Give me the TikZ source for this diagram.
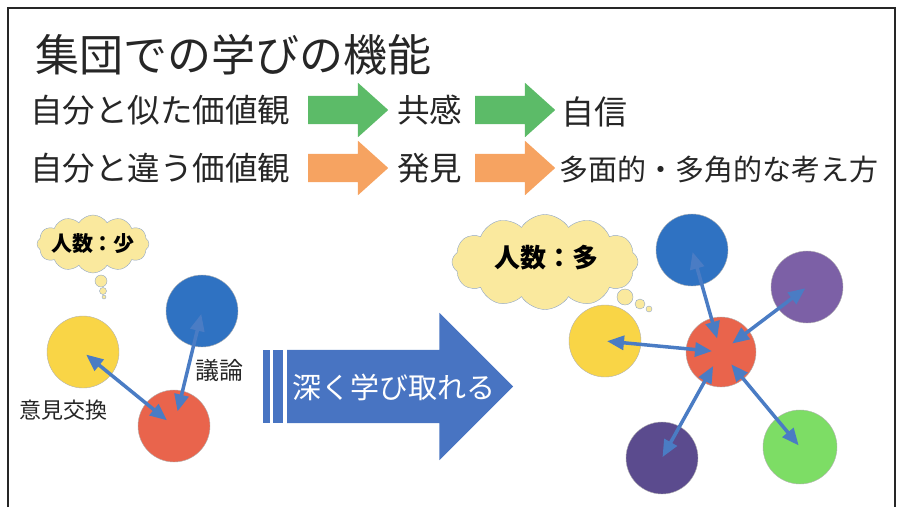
\documentclass[tikz,border=0pt]{standalone}
\usepackage{fontspec}
\setmainfont{Noto Sans CJK JP}
\usepackage{xcolor}
\usepackage{tikz}
\usetikzlibrary{arrows.meta,shapes.arrows,shapes.symbols}

\definecolor{inkgray}{HTML}{262626}
\definecolor{linkblue}{HTML}{4A7CC4}
\definecolor{ballyellow}{HTML}{F9D546}
\definecolor{ballblue}{HTML}{2F72C2}
\definecolor{ballred}{HTML}{E9644C}
\definecolor{ballpurple}{HTML}{7C60A6}
\definecolor{balldark}{HTML}{5B4B8E}
\definecolor{ballgreen}{HTML}{7DDD65}
\definecolor{cloudfill}{HTML}{FAE99E}
\definecolor{cloudline}{HTML}{8FA6C6}
\definecolor{bigblue}{HTML}{4874C2}
\definecolor{blkgreen}{HTML}{5CBB68}
\definecolor{blkorange}{HTML}{F6A361}

\newcommand{\fs}[1]{\fontsize{#1}{#1}\selectfont}

\tikzset{
  txt/.style={inner sep=0pt, anchor=west, text=inkgray},
  blk/.style={single arrow, minimum height=80pt, minimum width=54pt,
    single arrow head extend=13pt, single arrow tip angle=84,
    inner sep=0pt, text height=28pt, text depth=0pt, anchor=tail},
  ball/.style={circle, draw=gray!60, thin, minimum size=72pt, inner sep=0pt},
  cld/.style={cloud, cloud puffs=12, cloud puff arc=115, fill=cloudfill,
    draw=cloudline, thin, inner sep=0pt},
  bub/.style={circle, fill=cloudfill, draw=cloudline, thin, inner sep=0pt},
  link/.style={{Triangle[length=17pt 0 0,width=14pt 0 0]}-{Triangle[length=17pt 0 0,width=14pt 0 0]},
    draw=linkblue, line width=3.5pt}
}

\begin{document}
\begin{tikzpicture}[x=1pt,y=-1pt]
      \useasboundingbox (0,0) rectangle (898,507);
      \draw[inkgray, line width=1.8pt] (8,507) -- (8,8) -- (895,8) -- (895,507);

      % title and the two rows
      \node[txt, font=\fs{44pt}] (title) at (35,55) {集団での学びの機能};

      \node[txt, font=\fs{32.5pt}] (same) at (30,110) {自分と似た価値観};
      \node[blk, fill=blkgreen] (ga) at (308,110) {};
      \node[txt, font=\fs{32.5pt}] (kyo) at (397,110) {共感};
      \node[blk, fill=blkgreen] (gb) at (475,110) {};
      \node[txt, font=\fs{33pt}] (jis) at (561,112) {自信};

      \node[txt, font=\fs{32.5pt}] (diff) at (30,168) {自分と違う価値観};
      \node[blk, fill=blkorange] (oa) at (308,168) {};
      \node[txt, font=\fs{32.5pt}] (hak) at (397,168) {発見};
      \node[blk, fill=blkorange] (ob) at (475,168) {};
      \node[txt, font=\fs{29pt}] (tam) at (559,169) {多面的・多角的な考え方};

      % small group
      \node[cld, minimum width=112pt, minimum height=58pt] (cL) at (93,244) {};
      \node[font=\fs{21pt}\bfseries, text=black] at (cL.center) {人数：少};
      \node[bub, minimum size=12pt] (cL1) at (101,281) {};
      \node[bub, minimum size=7pt] (cL2) at (103,291) {};
      \node[bub, minimum size=4pt] (cL3) at (104,297) {};

      \node[ball, fill=ballyellow] (yL) at (83,352) {};
      \node[ball, fill=ballblue] (bL) at (202,311) {};
      \node[ball, fill=ballred] (rL) at (174,426) {};
      \draw[link, shorten <=4pt, shorten >=9pt] (yL.center) -- (rL.center);
      \draw[link, shorten <=3pt, shorten >=15pt] (bL.center) -- (rL.center);
      \node[txt, font=\fs{24pt}] (giron) at (195,370) {議論};
      \node[txt, font=\fs{22pt}] (iken) at (19,410) {意見交換};

      % big arrow
      \fill[bigblue] (263,350) rectangle (270,423);
      \fill[bigblue] (273,350) rectangle (283,423);
      \node[single arrow, fill=bigblue, minimum height=226pt, minimum width=147pt,
        single arrow head extend=37pt, single arrow tip angle=90,
        inner sep=0pt, text height=73pt, text depth=0pt, anchor=tail] (big) at (287,386.5) {};
      \node[txt, font=\fs{29pt}, text=white] (deep) at (292,387) {深く学び取れる};

      % large group
      \node[cld, minimum width=186pt, minimum height=95pt] (cR) at (545,262) {};
      \node[font=\fs{26pt}\bfseries, text=black] at (546,258) {人数：多};
      \node[bub, minimum size=16pt] (cR1) at (625,297) {};
      \node[bub, minimum size=10pt] (cR2) at (640,304) {};
      \node[bub, minimum size=6pt] (cR3) at (649,309) {};

      \node[ball, fill=ballyellow] (yR) at (605,341) {};
      \node[ball, fill=ballblue] (bR) at (692,250) {};
      \node[ball, fill=ballpurple] (pR) at (807,287) {};
      \node[ball, fill=balldark] (dR) at (662,458) {};
      \node[ball, fill=ballgreen, minimum size=74pt] (gR) at (800,447) {};
      \node[ball, fill=ballred, minimum size=70pt] (rR) at (721,352) {};

      \draw[link, shorten <=9pt, shorten >=2pt] (rR.center) -- (yR.center);
      \draw[link, shorten <=14pt, shorten >=2pt] (rR.center) -- (bR.center);
      \draw[link, shorten <=14pt, shorten >=2pt] (rR.center) -- (pR.center);
      \draw[link, shorten <=16pt, shorten >=1pt] (rR.center) -- (dR.center);
      \draw[link, shorten <=16pt, shorten >=2pt] (rR.center) -- (gR.center);

    \end{tikzpicture}
\end{document}
